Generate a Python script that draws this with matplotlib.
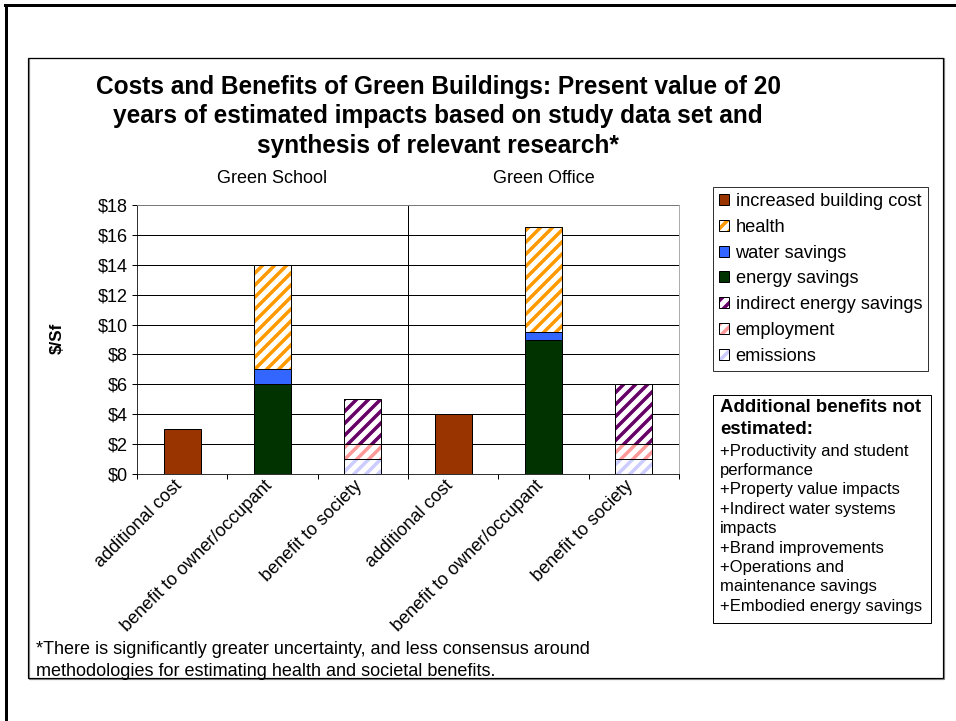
import matplotlib
matplotlib.use("Agg")
import matplotlib.pyplot as plt
from matplotlib.patches import Patch, Rectangle
from matplotlib.lines import Line2D
from matplotlib.legend_handler import HandlerTuple
import matplotlib.transforms as mtransforms
import numpy as np

plt.rcParams['font.family'] = ['Liberation Sans', 'DejaVu Sans']
plt.rcParams['hatch.linewidth'] = 3.5

# ---- data ($ per square foot, present value of 20 years) ----
groups = ["Green School", "Green Office"]
categories = ["additional cost", "benefit to owner/occupant", "benefit to society",
              "additional cost", "benefit to owner/occupant", "benefit to society"]

emissions = [0, 0, 1, 0, 0, 1]
employment = [0, 0, 1, 0, 0, 1]
indirect_energy = [0, 0, 3, 0, 0, 4]
energy_savings = [0, 6, 0, 0, 9, 0]
water_savings = [0, 1, 0, 0, 0.5, 0]
health = [0, 7, 0, 0, 7, 0]
increased_cost = [3, 0, 0, 4, 0, 0]

y_ticks = [0, 2, 4, 6, 8, 10, 12, 14, 16, 18]
y_tick_labels = ["$0", "$2", "$4", "$6", "$8", "$10", "$12", "$14", "$16", "$18"]

title_lines = ["Costs and Benefits of Green Buildings: Present value of 20",
               "years of estimated impacts based on study data set and",
               "synthesis of relevant research*"]
note_heading = ["Additional benefits not", "estimated:"]
note_items = ["+Productivity and student", "performance", "+Property value impacts",
              "+Indirect water systems", "impacts", "+Brand improvements",
              "+Operations and", "maintenance savings", "+Embodied energy savings"]
footnote = ["*There is significantly greater uncertainty, and less consensus around",
            "methodologies for estimating health and societal benefits."]

# series in stacking order (bottom to top): label, values, fill, hatch colour
series = [
    ("emissions", emissions, "white", "#CCCCFF"),
    ("employment", employment, "white", "#FF9999"),
    ("indirect energy savings", indirect_energy, "white", "#660066"),
    ("energy savings", energy_savings, "#003300", None),
    ("water savings", water_savings, "#3366FF", None),
    ("health", health, "white", "#FF9900"),
    ("increased building cost", increased_cost, "#993300", None),
]

W, H = 956, 721
DPI = 72
fig = plt.figure(figsize=(W / DPI, H / DPI), dpi=DPI)


def fx(x):
    return x / W


def fy(y):
    return 1 - y / H


# outer page frame (top and left edges)
fig.add_artist(Line2D([fx(5), fx(956)], [fy(5), fy(5)], color="black", lw=3))
fig.add_artist(Line2D([fx(6), fx(6)], [fy(5), fy(721)], color="black", lw=3))
# chart frame
fig.add_artist(Rectangle((fx(29), fy(679)), fx(944) - fx(29), fy(58) - fy(679),
                         transform=fig.transFigure, fill=False, ec="#888888", lw=1.2))
fig.add_artist(Rectangle((fx(28), fy(678)), fx(943) - fx(28), fy(58) - fy(678),
                         transform=fig.transFigure, fill=False, ec="black", lw=1.2))

ax = fig.add_axes([fx(137), fy(474), fx(679) - fx(137), fy(205) - fy(474)])

x = np.arange(len(categories))
width = 0.41
bottom = np.zeros(len(categories))
for label, vals, fill, hcol in series:
    vals = np.asarray(vals, dtype=float)
    mask = vals > 0
    if hcol is None:
        ax.bar(x[mask], vals[mask], width, bottom=bottom[mask], color=fill,
               edgecolor="black", linewidth=1, zorder=3)
    else:
        ax.bar(x[mask], vals[mask], width, bottom=bottom[mask], color=fill,
               edgecolor=hcol, linewidth=0, hatch="//", zorder=3)
        ax.bar(x[mask], vals[mask], width, bottom=bottom[mask], fill=False,
               edgecolor="black", linewidth=1, zorder=4)
    bottom += vals

ax.set_xlim(-0.5, len(categories) - 0.5)
ax.set_ylim(0, 18)
ax.set_yticks(y_ticks)
ax.set_yticklabels(y_tick_labels, fontsize=18)
ax.tick_params(axis="y", direction="out", length=5, width=1, pad=4)

# ticks at category boundaries, labels at category centres
ax.set_xticks(np.arange(-0.5, len(categories), 1.0))
ax.set_xticklabels([])
ax.tick_params(axis="x", which="major", direction="out", length=5, width=1)
ax.set_xticks(x, minor=True)
ax.set_xticklabels(categories, minor=True, fontsize=18, rotation=45,
                   ha="right", va="center", rotation_mode="anchor")
ax.tick_params(axis="x", which="minor", length=0, pad=9)
offset = mtransforms.ScaledTranslation(-3 / DPI, 0, fig.dpi_scale_trans)
for lbl in ax.get_xticklabels(minor=True):
    lbl.set_transform(lbl.get_transform() + offset)

ax.yaxis.grid(True, color="black", lw=1)
ax.set_axisbelow(True)
for side in ("top", "right"):
    ax.spines[side].set_color("#999999")
for side in ("left", "bottom"):
    ax.spines[side].set_color("black")

# divider between the two building types
ax.axvline(2.5, color="black", lw=1, zorder=2)

# group headings
for gi, g in enumerate(groups):
    ax.text(gi * 3 + 1, 1.0 + 18 / 269, g, transform=ax.get_xaxis_transform(),
            ha="center", va="bottom", fontsize=18)

fig.text(fx(57), fy(338), "$/Sf", rotation=90, ha="center", va="center",
         fontsize=17, fontweight="bold")

for i, line in enumerate(title_lines):
    fig.text(fx(438), fy(87 + i * 29.5), line, ha="center", va="center",
             fontsize=24.5, fontweight="bold")

# legend (reverse of stacking order)
handles, labels = [], []
for label, vals, fill, hcol in reversed(series):
    if hcol is None:
        h = Patch(facecolor=fill, edgecolor="black", lw=1)
    else:
        h = (Patch(facecolor=fill, edgecolor=hcol, hatch="//", lw=0),
             Patch(facecolor="none", edgecolor="black", lw=1))
    handles.append(h)
    labels.append(label)
leg = fig.legend(handles, labels, loc="upper left",
                 bbox_to_anchor=(fx(713), fy(187)), borderaxespad=0,
                 fontsize=18.3, frameon=True, fancybox=False, edgecolor="black",
                 handlelength=0.55, handleheight=0.55, handletextpad=0.35,
                 labelspacing=0.48, borderpad=0.33,
                 handler_map={tuple: HandlerTuple(ndivide=1)})
leg.get_frame().set_linewidth(1)

# box of benefits not estimated
fig.add_artist(Rectangle((fx(713), fy(623)), fx(931) - fx(713), fy(395) - fy(623),
                         transform=fig.transFigure, fill=False, ec="black", lw=1))
for i, line in enumerate(note_heading):
    fig.text(fx(720), fy(408 + i * 21.5), line, ha="left", va="center",
             fontsize=18.6, fontweight="bold")
for i, line in enumerate(note_items):
    fig.text(fx(720), fy(451 + i * 19.4), line, ha="left", va="center",
             fontsize=16.6)

for i, line in enumerate(footnote):
    fig.text(fx(36), fy(650 + i * 21), line, ha="left", va="center", fontsize=18)

fig.savefig("out.png", dpi=DPI)
